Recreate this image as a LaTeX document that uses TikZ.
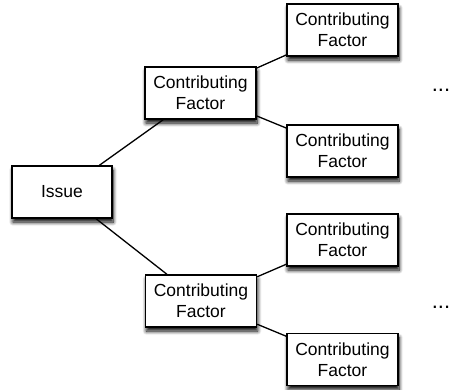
\documentclass[tikz,border=0pt]{standalone}
\usepackage{fontspec}
\setmainfont{Liberation Sans}
\usetikzlibrary{shadows.blur}
\tikzset{
  box/.style={draw, line width=1.4pt, fill=white, align=center,
              font=\fontsize{17.5}{21}\selectfont, inner sep=0pt,
              minimum width=111pt, minimum height=52pt,
              blur shadow={shadow xshift=1pt, shadow yshift=-4pt,
                           shadow blur radius=4pt, shadow blur steps=8,
                           shadow opacity=100}},
  issue/.style={box, minimum width=100pt},
  link/.style={line width=1.3pt},
  more/.style={font=\fontsize{22}{24}\selectfont},
}
\begin{document}
\begin{tikzpicture}[x=1pt, y=1pt]
  \useasboundingbox (0,0) rectangle (450,-389);
  \node[issue] (issue) at (62,-192) {Issue};
  \node[box] (cfa) at (200.5,-93) {Contributing\\Factor};
  \node[box] (cfb) at (201,-301) {Contributing\\Factor};
  \node[box] (fa1) at (342.5,-30) {Contributing\\Factor};
  \node[box] (fa2) at (342.5,-151) {Contributing\\Factor};
  \node[box] (fb1) at (342.5,-240) {Contributing\\Factor};
  \node[box] (fb2) at (342.5,-359.5) {Contributing\\Factor};
  \node[more] (dotsa) at (441,-90) {...};
  \node[more] (dotsb) at (441,-307) {...};
  \foreach \x in {cfa,cfb} \draw[link] (issue) -- (\x);
  \foreach \x in {fa1,fa2} \draw[link] (cfa) -- (\x);
  \foreach \x in {fb1,fb2} \draw[link] (cfb) -- (\x);
\end{tikzpicture}
\end{document}
